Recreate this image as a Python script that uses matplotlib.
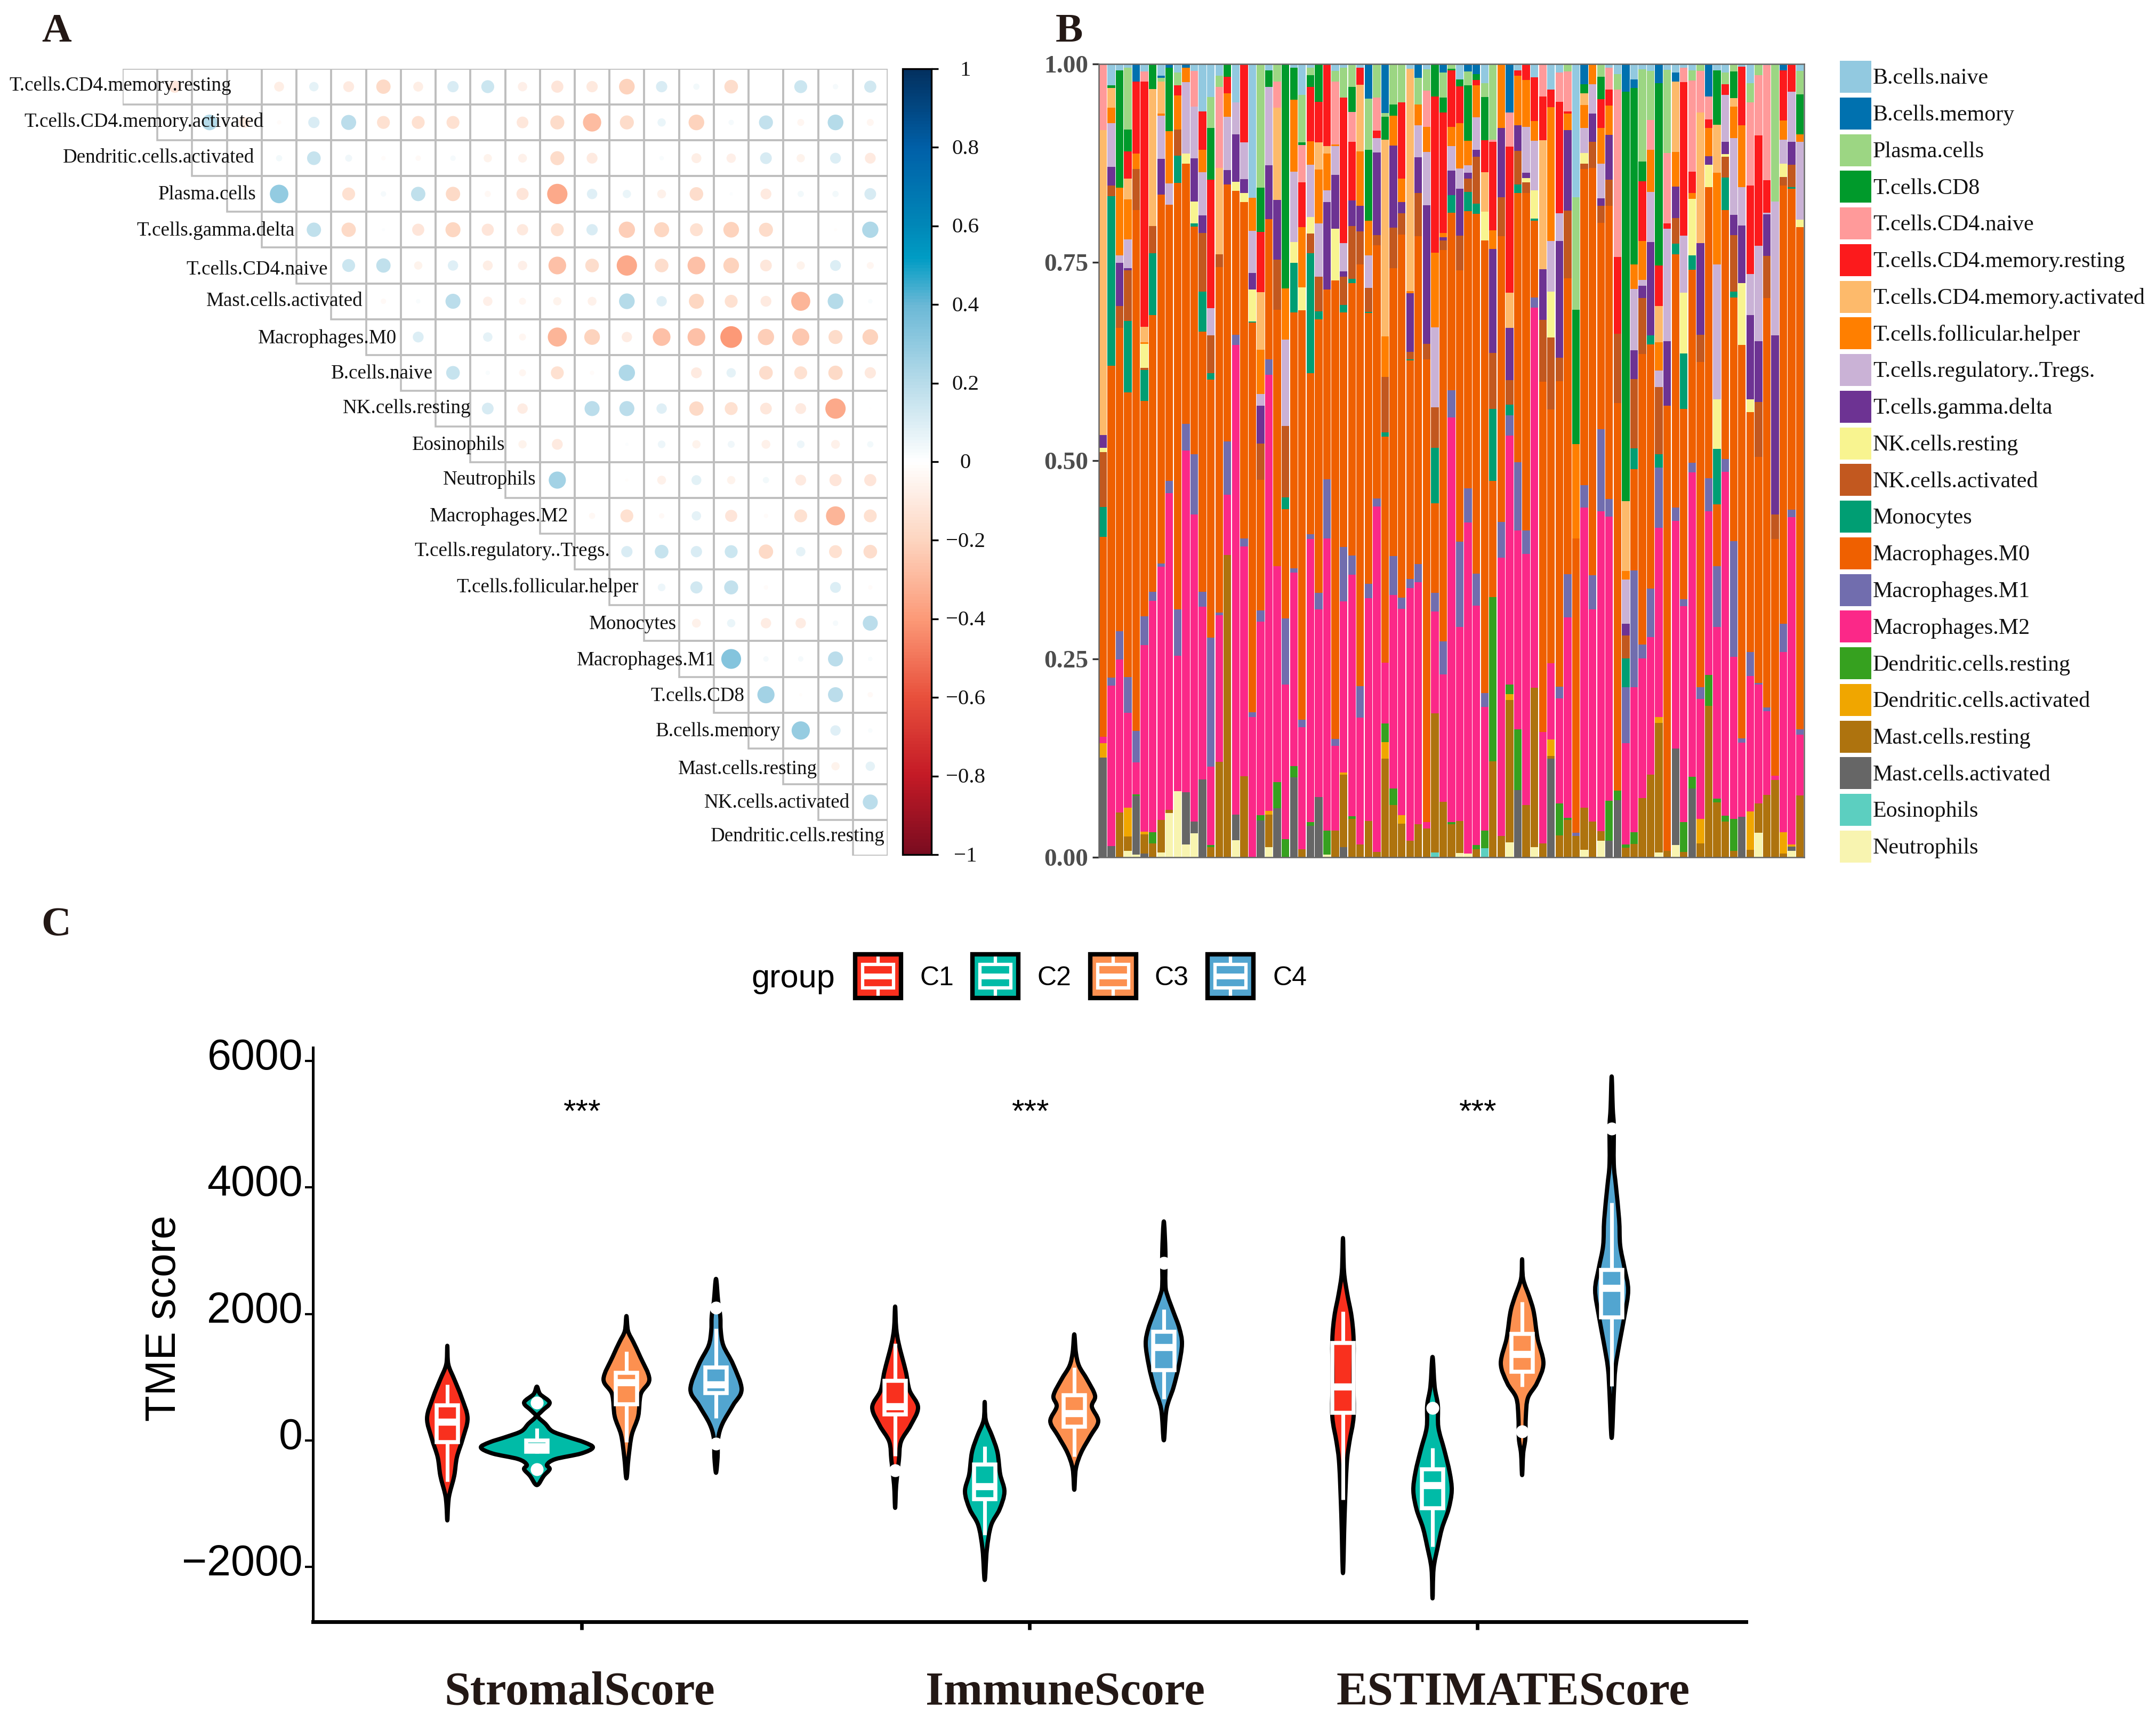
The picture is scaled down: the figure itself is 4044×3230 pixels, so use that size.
import numpy as np
import pandas as pd
import matplotlib
matplotlib.use("Agg")
import matplotlib.pyplot as plt
from matplotlib.colors import LinearSegmentedColormap, Normalize
from matplotlib.cm import ScalarMappable
from matplotlib.patches import Rectangle, PathPatch
from matplotlib.path import Path

W, H = 4044, 3230
SERIF = "Liberation Serif"
SANS = "Liberation Sans"
INK = "#231815"

# ---------- Panel A data ----------
corr_labels = ["T.cells.CD4.memory.resting", "T.cells.CD4.memory.activated", "Dendritic.cells.activated",
               "Plasma.cells", "T.cells.gamma.delta", "T.cells.CD4.naive", "Mast.cells.activated",
               "Macrophages.M0", "B.cells.naive", "NK.cells.resting", "Eosinophils", "Neutrophils",
               "Macrophages.M2", "T.cells.regulatory..Tregs.", "T.cells.follicular.helper", "Monocytes",
               "Macrophages.M1", "T.cells.CD8", "B.cells.memory", "Mast.cells.resting",
               "NK.cells.activated", "Dendritic.cells.resting"]
corr_rows = [
    [-.15, .03, 0, -.1, .09, -.12, -.21, -.1, .13, .17, -.09, -.15, -.13, -.25, .13, .04, -.19, 0, .17, .03, .15],
    [.25, -.12, -.02, .13, .23, -.17, -.17, -.17, 0, -.14, -.2, -.34, -.2, .07, -.25, .03, .2, -.05, .25, -.05],
    [0, .04, .19, .05, -.02, -.03, .03, -.07, -.08, -.2, -.12, 0, .02, -.1, -.09, .14, -.07, .12, -.12],
    [.35, 0, -.17, .03, .21, -.21, -.04, -.15, -.42, .11, .07, -.08, -.19, .01, -.12, .04, .04, .14],
    [.21, -.21, .01, -.15, -.23, -.15, -.13, -.17, .13, -.27, -.23, -.17, -.25, -.2, 0, -.01, .27],
    [.17, .21, -.07, .11, -.1, -.09, -.32, -.19, -.42, -.19, -.32, -.25, -.14, -.07, .12, -.05],
    [-.03, .02, .23, -.09, -.05, -.07, -.08, .25, .11, -.23, -.17, -.12, -.37, .25, .02],
    [.12, 0, .09, -.05, -.37, -.25, -.11, -.32, -.32, -.48, -.27, -.3, -.2, -.25],
    [.19, .02, -.05, -.17, -.02, .27, 0, -.12, .09, -.19, -.17, -.21, -.13],
    [.14, -.11, 0, .23, .23, .11, -.21, -.17, -.14, -.12, -.42, -.005],
    [-.07, -.12, 0, .01, .06, -.07, .05, -.08, .06, -.08, .04],
    [.3, 0, -.01, -.08, .1, -.07, .04, -.12, -.15, -.15],
    [-.04, -.17, -.03, .09, -.15, -.02, -.17, -.37, -.17],
    [.13, .19, .13, .17, -.21, .09, -.17, -.19],
    [.06, .15, .2, -.02, 0, .12, -.02],
    [-.08, .07, -.11, -.11, .03, .23],
    [.4, .03, .03, .23, .02],
    [.3, -.01, .23, -.03],
    [.34, .11, .02],
    [-.07, .09],
    [.23],
    [],
]
corr_ticks = [1, .8, .6, .4, .2, 0, -.2, -.4, -.6, -.8, -1]

# ---------- Panel B data ----------
cell_names = ["B.cells.naive", "B.cells.memory", "Plasma.cells", "T.cells.CD8", "T.cells.CD4.naive",
              "T.cells.CD4.memory.resting", "T.cells.CD4.memory.activated", "T.cells.follicular.helper",
              "T.cells.regulatory..Tregs.", "T.cells.gamma.delta", "NK.cells.resting", "NK.cells.activated",
              "Monocytes", "Macrophages.M0", "Macrophages.M1", "Macrophages.M2", "Dendritic.cells.resting",
              "Dendritic.cells.activated", "Mast.cells.resting", "Mast.cells.activated", "Eosinophils",
              "Neutrophils"]
cell_codes = list("abpcnrsftgykozvwdemxhu")
cell_colors = ["#92C9E0", "#0071AF", "#9CD683", "#009A2B", "#FF9A9A", "#FC1A1C", "#FDBA6B", "#FF7F00",
               "#CAB2D6", "#6D3393", "#F8F490", "#C2581F", "#009E73", "#EF6000", "#716DAE", "#FB2888",
               "#36A11F", "#F0A600", "#AE730E", "#666666", "#5CCFC0", "#F8F4B0"]
samples = [
    dict(n=129, s=593, g=25, y=8, k=107, o=58, z=389, w=13, e=28, x=194),
    dict(a=42, c=5, s=38, f=30, t=85, g=37, k=20, o=330, z=607, v=16, w=312, x=22),
    dict(a=12, c=229, f=132, t=14, g=84, k=43, z=590, v=55, w=298, m=87),
    dict(a=7, p=121, c=42, r=53, s=41, f=77, t=56, g=5, k=98, o=139, z=554, v=70, w=185, e=56, m=28, u=12),
    dict(b=34, r=140, f=30, k=80, z=1014, v=61, w=63, d=3, x=114, u=5),
    dict(a=15, n=19, r=478, s=30, f=3, y=46, k=5, o=60, z=419, v=56, w=363, e=5, m=38, x=7),
    dict(c=49, s=266, k=53, o=121, z=538, v=18, w=450, d=22, m=27),
    dict(a=23, b=4, p=7, s=63, f=4, t=84, g=69, z=718, v=7, w=492, m=64, u=9),
    dict(b=7, c=124, f=101, t=42, z=537, v=24, w=617, m=6, u=86),
    dict(a=17, p=25, r=19, f=67, k=50, o=53, z=831, v=90, w=263, u=129),
    dict(b=7, f=28, t=139, y=20, z=506, v=52, w=665, x=102, u=25),
    dict(a=13, n=70, t=101, g=84, y=42, o=6, z=444, v=117, w=597, x=23, u=47),
    dict(a=92, r=75, f=44, t=84, g=34, k=114, o=78, z=506, v=29, w=336, x=152),
    dict(a=64, p=60, c=101, r=250, t=53, k=74, o=12, z=502, v=252, w=152, d=4, m=20),
    dict(a=23, p=22, n=157, s=168, k=25, z=673, v=5, w=285, m=186),
    dict(c=25, r=32, f=46, t=104, g=27, z=501, v=103, w=118, m=588),
    dict(a=75, t=62, g=92, y=18, z=280, v=20, w=914, x=50, u=33),
    dict(r=153, t=71, g=27, y=18, z=654, v=16, w=447, m=158),
    dict(a=260, f=65, t=82, g=32, y=62, o=2, z=759, v=9, w=273),
    dict(p=241, c=86, r=117, s=112, f=86, t=23, g=74, k=70, z=255, v=21, w=377, d=10, x=72),
    dict(a=12, c=33, t=152, g=105, z=273, v=30, w=849, e=7, m=63, u=20),
    dict(p=34, n=51, s=180, g=116, k=97, z=499, w=421, d=51, x=95),
    dict(c=437, f=99, t=169, k=139, o=22, z=213, v=129, w=301, d=35),
    dict(a=7, c=63, f=140, t=137, y=40, o=97, z=498, v=8, w=377, d=21, x=156),
    dict(a=60, p=93, c=5, n=72, r=87, f=118, y=44, z=797, v=15, w=237, m=16),
    dict(a=7, p=15, c=23, r=105, f=46, t=102, y=32, k=38, o=234, z=313, v=10, w=550, d=8, x=61),
    dict(c=74, r=79, s=52, f=105, t=104, k=67, o=16, z=532, v=33, w=365, x=117),
    dict(r=160, s=14, f=72, t=23, g=170, z=369, v=115, w=569, d=47, u=5),
    dict(a=14, p=20, n=123, f=3, t=56, g=105, y=100, z=893, v=13, w=165, m=52),
    dict(a=7, p=58, r=284, t=55, g=10, k=55, o=15, z=456, v=106, w=333, e=4, m=141, x=20),
    dict(a=2, p=43, c=48, n=59, r=114, g=49, k=103, o=8, z=531, v=37, w=470, d=5, m=75),
    dict(a=7, r=33, s=130, f=106, g=50, k=64, z=821, v=61, w=247, m=25),
    dict(b=67, p=100, c=138, f=68, t=63, k=46, o=3, z=527, v=28, w=433, m=71),
    dict(p=65, n=65, r=14, t=28, g=161, k=20, z=493, v=15, w=673, m=10),
    dict(b=95, p=8, c=44, s=383, f=79, k=108, o=8, z=440, w=119, d=36, e=32, m=192),
    dict(p=79, c=22, f=58, g=160, k=78, z=561, v=76, w=376, d=32, m=102),
    dict(p=75, r=148, f=46, g=22, k=41, z=707, v=21, w=402, e=17, m=65),
    dict(a=9, s=433, f=4, g=114, k=15, o=2, z=425, v=18, w=492, m=32),
    dict(b=27, p=52, f=40, t=63, g=69, k=84, z=638, v=36, w=471, m=64),
    dict(a=10, p=42, n=70, f=49, t=104, g=270, k=30, z=901, w=12, m=56),
    dict(c=63, r=304, f=146, t=155, k=79, o=108, z=174, v=37, w=198, m=271, h=9),
    dict(b=17, p=48, c=29, r=235, f=8, g=6, k=19, z=762, v=64, w=248, m=108),
    dict(p=9, c=3, r=110, f=38, t=48, g=47, o=35, z=345, v=53, w=788, d=4, m=64),
    dict(a=30, c=14, r=71, f=88, t=40, g=91, k=68, z=528, v=166, w=377, m=63, u=8),
    dict(b=15, p=26, c=108, f=48, t=15, g=11, k=26, o=37, z=540, v=66, w=645, u=7),
    dict(b=20, c=11, r=11, f=62, t=63, g=14, k=91, o=20, z=700, v=62, w=466, d=8, m=16),
    dict(a=37, p=27, c=84, r=63, s=76, y=56, z=881, v=27, w=241, d=34, h=18),
    dict(p=147, n=5, r=172, f=36, g=202, k=109, o=140, z=227, d=319, m=187),
    dict(f=125, g=134, k=76, z=556, v=70, w=541, m=42),
    dict(b=94, n=67, r=284, s=69, g=101, k=48, o=21, v=39, w=485, d=19, e=11, m=277, u=29),
    dict(a=12, r=11, f=96, g=50, k=65, o=17, z=524, v=133, w=387, d=118, x=131),
    dict(r=31, f=91, t=90, g=10, y=8, k=21, z=657, v=46, w=488, m=102),
    dict(a=26, r=85, f=38, t=97, y=55, o=4, z=150, v=19, w=740, m=310, u=20),
    dict(n=63, r=85, s=252, g=98, k=120, z=682, w=217, m=27),
    dict(a=50, r=34, f=260, t=99, y=89, k=140, z=494, w=149, e=32, m=5, x=192),
    dict(a=17, n=57, r=217, t=53, g=228, k=45, z=595, v=23, w=204, d=62, m=43),
    dict(p=15, n=77, r=5, f=32, g=156, k=132, z=576, v=84, w=390, d=4, m=73),
    dict(a=259, p=219, c=262, f=183, z=573, v=6, m=42),
    dict(b=39, c=18, s=23, f=45, t=48, y=21, k=10, z=616, v=43, w=585, m=81, u=15),
    dict(f=39, t=58, g=54, k=51, z=793, v=67, w=412, m=70),
    dict(p=25, c=44, r=55, f=70, t=67, g=15, k=33, z=402, v=160, w=622, m=19, u=32),
    dict(a=7, n=43, r=31, f=57, g=87, k=51, z=571, v=34, w=553, d=78, x=32),
    dict(a=20, p=30, n=326, r=149, k=135, z=754, d=19, x=111),
    dict(b=54, c=797, s=136, f=16, t=86, g=23, k=45, o=56, v=109, w=197, d=6, m=19),
    dict(a=30, b=17, c=343, f=48, t=119, g=56, k=135, o=41, z=197, v=227, w=282, d=23, m=26),
    dict(a=10, p=180, c=38, r=116, f=76, t=12, g=24, k=108, z=566, v=27, w=272, m=115),
    dict(a=14, p=95, n=58, f=82, t=98, g=181, o=18, z=475, v=94, w=268, m=161),
    dict(b=37, c=355, r=79, s=71, f=55, t=32, k=131, o=25, v=118, w=368, e=12, m=252, u=9),
    dict(a=11, p=162, n=137, r=11, t=219, g=125, z=867, m=12),
    dict(a=17, b=17, s=137, f=68, g=61, k=50, o=20, z=493, v=26, w=443, x=188, u=24),
    dict(a=7, n=28, r=299, t=111, y=118, o=108, z=371, v=13, w=421, d=58, m=10),
    dict(a=12, p=20, n=178, r=41, f=12, y=109, o=29, z=375, v=19, w=592, d=23, x=134),
    dict(p=13, n=81, s=255, g=178, k=53, z=633, v=23, w=233, e=48, m=27),
    dict(b=63, n=45, r=16, f=56, g=16, y=44, z=566, v=65, w=318, d=60, m=295),
    dict(a=12, c=106, s=94, f=178, t=263, y=96, o=108, z=120, v=119, w=334, d=7, m=107),
    dict(a=17, p=22, r=21, t=91, g=24, y=6, k=40, o=63, z=485, v=25, w=669, d=11, m=70),
    dict(p=15, c=51, s=17, f=61, t=150, g=39, k=110, o=12, z=474, v=225, w=315, d=63, m=12),
    dict(a=5, r=114, f=121, t=74, g=112, y=121, z=766, v=8, w=144, x=79),
    dict(a=37, p=38, n=162, r=172, t=80, g=164, y=25, z=466, v=47, w=264, e=74, m=15),
    dict(p=22, n=117, r=215, t=186, g=118, k=107, z=440, v=3, w=231, m=57, u=48),
    dict(a=2, n=224, r=63, t=4, g=81, k=82, z=796, v=8, w=163, m=121),
    dict(p=268, t=260, g=348, k=48, z=460, w=9, m=150),
    dict(b=12, r=98, f=37, t=47, y=26, k=17, z=853, v=54, w=351, e=42, m=7),
    dict(r=54, t=98, g=44, k=44, o=3, z=624, v=15, w=637, e=4, x=9, u=12),
    dict(a=14, p=45, c=78, f=14, t=152, y=15, z=977, v=10, w=119, m=120),
]

# ---------- Panel C data: outline (score, half width) and box stats ----------
score_names = ["StromalScore", "ImmuneScore", "ESTIMATEScore"]
group_names = ["C1", "C2", "C3", "C4"]
group_colors = ["#F9301E", "#00BBA7", "#FC9050", "#52A5D0"]

stromal_c1 = ([1497, 1262, 1145, 969, 675, 353, 30, -264, -557, -851, -1027, -1262], [0, 1, 4, 13, 27, 38, 29, 18, 13, 4, 1.5, 0])
stromal_c2 = ([851, 734, 599, 470, 382, 264, 147, 59, -29, -111, -205, -293, -381, -452, -557, -704], [0, 6, 24, 10, 2, 16, 29, 57, 89, 105, 83, 35, 19, 24, 13, 0])
stromal_c3 = ([1967, 1732, 1556, 1321, 969, 734, 382, 89, -264, -598], [0, 3, 13, 26, 43, 27, 22, 10, 4, 0])
stromal_c4 = ([2554, 2202, 1967, 1732, 1497, 1204, 810, 558, 264, 30, -264, -510], [0, 4, 8, 9, 14, 32, 48, 32, 12, 4, 3, 0])
immune_c1 = ([2117, 1776, 1520, 1093, 794, 525, 239, -18, -316, -701, -1064], [0, 2, 7, 20, 27, 43, 29, 11, 7, 2, 0])
immune_c2 = ([610, 324, 68, -189, -530, -807, -1085, -1341, -1726, -2204], [0, 2, 14, 24, 29, 37, 28, 12, 4, 0])
immune_c3 = ([1678, 1391, 1178, 965, 708, 537, 303, 68, -189, -445, -778], [0, 3, 9, 24, 39, 33, 45, 30, 13, 3, 0])
immune_c4 = ([3462, 2971, 2459, 2288, 2032, 1776, 1528, 1178, 836, 495, 4], [0, 3, 3, 7, 18, 29, 34, 28, 18, 5, 0])
estimate_c1 = ([3199, 2671, 2319, 1967, 1585, 969, 382, -29, -381, -1203, -2095], [0, 2, 8, 16, 20, 19.5, 20, 12, 7, 3, 0])
estimate_c2 = ([1321, 851, 558, 206, -147, -499, -792, -1086, -1379, -1673, -2025, -2494], [0, 4, 10, 11, 22, 32, 36, 30, 18, 10, 2, 0])
estimate_c3 = ([2865, 2554, 2260, 2025, 1615, 1221, 910, 675, 382, 30, -205, -546], [0, 2, 14, 22, 29, 40, 28, 11, 7, 6, 2, 0])
estimate_c4 = ([5753, 5254, 4960, 4373, 4021, 3493, 3082, 2730, 2378, 1967, 1556, 1145, 734, 41], [0, 2, 4, 4, 8, 14, 16, 24, 31, 24, 15, 7, 4, 0])

# whisker low, q1, median, q3, whisker high
stromal_box = [(-645, -28, 294, 557, 881), (-205, -175, -90, -1, 194), (-29, 576, 922, 1068, 1409), (352, 746, 881, 1156, 1773)]
immune_box = [(-244, 414, 537, 943, 1532), (-1495, -927, -722, -381, -94), (-252, 217, 431, 713, 1157), (657, 1114, 1477, 1716, 2075)]
estimate_box = [(-939, 441, 851, 1543, 2037), (-1673, -1067, -704, -458, -117), (851, 1087, 1362, 1684, 2190), (863, 1950, 2407, 2700, 3757)]
stromal_out = [[], [599, -452], [], [2096, -47]]
immune_out = [[-474], [], [], [2809]]
estimate_out = [[], [511], [147], [4931]]
y_ticks_c = [6000, 4000, 2000, 0, -2000]

# ---------- helpers ----------
fig = plt.figure(figsize=(W / 300, H / 300), dpi=300, facecolor="white")


def axpx(l, t, r, b):
    return fig.add_axes([l / W, 1 - b / H, (r - l) / W, (b - t) / H])


def txt(x, y, s, **kw):
    kw.setdefault("family", SERIF)
    kw.setdefault("ha", "center")
    kw.setdefault("va", "center")
    kw.setdefault("color", INK)
    return fig.text(x / W, 1 - y / H, s, **kw)


px2pt = 72 / 300

txt(106, 60, "A", fontsize=18.5, fontweight="bold")
txt(2005, 60, "B", fontsize=18.5, fontweight="bold")
txt(105, 1735, "C", fontsize=18.5, fontweight="bold")

# ---------- Panel A ----------
cmap = LinearSegmentedColormap.from_list("corr", [
    (0, "#7A0C20"), (.1, "#C41A26"), (.2, "#E8503C"), (.3, "#FC9A78"), (.4, "#FDD5C0"), (.5, "#FFFFFF"),
    (.6, "#B8DCEA"), (.7, "#6AB8D6"), (.76, "#009CC4"), (.8, "#0088B8"), (.9, "#0060A8"), (1, "#03305F")])
norm = Normalize(-1, 1)
axA = axpx(230, 129, 1665, 1605)
axA.set_xlim(0, 22)
axA.set_ylim(22, 0)
axA.axis("off")
n = len(corr_labels)
cell_px = (1665 - 230) / 22
for i in range(n):
    for j in range(i, n):
        axA.add_patch(Rectangle((j, i), 1, 1, fc="none", ec="#BEBEBE", lw=0.85, zorder=1))
xs, ys, vals = [], [], []
for i, row in enumerate(corr_rows):
    for k, v in enumerate(row):
        xs.append(i + 1 + k + .5)
        ys.append(i + .5)
        vals.append(v)
vals = np.array(vals)
sizes = (0.9 * np.sqrt(np.abs(vals)) * cell_px * px2pt) ** 2
axA.scatter(xs, ys, s=sizes, c=vals, cmap=cmap, norm=Normalize(-1.2, 1.2), linewidths=0, zorder=2)

label_right = [434, 494, 477, 481, 553, 615, 681, 744, 812, 883, 947, 1006, 1066, 1144, 1198, 1269, 1342, 1396,
               1464, 1533, 1594, 1660]
label_y = [161, 228, 296, 365, 433, 506, 565, 635, 701, 766, 835, 900, 969, 1034, 1101, 1171, 1239, 1306, 1372,
           1443, 1506, 1568]
for s, xr, yc in zip(corr_labels, label_right, label_y):
    txt(xr, yc, s, fontsize=8.9, ha="right", color="#111111", zorder=5)

cax = axpx(1693, 129, 1747, 1603)
cb = fig.colorbar(ScalarMappable(norm=norm, cmap=cmap), cax=cax, ticks=corr_ticks)
cb.outline.set_linewidth(0.8)
cb.outline.set_edgecolor("black")
cax.tick_params(length=3, width=0.8, labelright=False)
for v in corr_ticks:
    lab = ("%g" % abs(v))
    lab = ("\u2212" + lab) if v < 0 else lab
    txt(1811, 866 - v * 737 + 3, lab, fontsize=9.8, color="#111111")

# ---------- Panel B ----------
axB = axpx(2061, 120, 3384, 1608)
df = pd.DataFrame(samples).reindex(columns=cell_codes).fillna(0.0)
frac = df.div(df.sum(axis=1), axis=0)
bottom = np.zeros(len(frac))
xpos = np.arange(len(frac))
for code, col in zip(reversed(cell_codes), reversed(cell_colors)):
    axB.bar(xpos, frac[code].values, bottom=bottom, width=0.92, color=col, linewidth=0)
    bottom += frac[code].values
axB.set_xlim(-.5, len(frac) - .5)
axB.set_ylim(0, 1)
axB.set_xticks([])
axB.set_yticks([0, .25, .5, .75, 1])
axB.set_yticklabels(["0.00", "0.25", "0.50", "0.75", "1.00"], family=SERIF, fontweight="bold", fontsize=11.4,
                    color="#4D4D4D")
axB.tick_params(axis="y", length=2.8, width=0.8, color="#333333", pad=2)
for sp in axB.spines.values():
    sp.set_linewidth(0.6)
    sp.set_color("#666666")

# overlay in pixel coordinates for the legends
ov = fig.add_axes([0, 0, 1, 1], facecolor="none")
ov.set_xlim(0, W)
ov.set_ylim(H, 0)
ov.axis("off")

for i, (name, col) in enumerate(zip(cell_names, cell_colors)):
    yc = 142 + i * 68.76
    ov.add_patch(Rectangle((3451, yc - 28), 59, 60, fc=col, ec="none"))
    txt(3513, yc + 5, name, fontsize=10.1, ha="left", color="#111111")

# ---------- Panel C ----------
axC = axpx(587, 1965, 3275, 3042)
axC.patch.set_alpha(0)
axC.set_xlim(-.6, 2.6)
axC.set_ylim(-2864, 6209)
unit = 840.0  # pixels per category


def violin_patch(cx, ys, ws, color):
    ys, ws = np.asarray(ys, float), np.asarray(ws, float) / unit
    pts = np.r_[np.c_[cx + ws, ys], np.c_[cx - ws[-2:0:-1], ys[-2:0:-1]]]
    m = len(pts)
    verts = [pts[0]]
    codes = [Path.MOVETO]
    for a in range(m):
        p0, p1, p2, p3 = pts[(a - 1) % m], pts[a], pts[(a + 1) % m], pts[(a + 2) % m]
        verts += [p1 + (p2 - p0) / 6, p2 - (p3 - p1) / 6, p2]
        codes += [Path.CURVE4] * 3
    verts.append(pts[0])
    codes.append(Path.CLOSEPOLY)
    return PathPatch(Path(np.array(verts), codes), fc=color, ec="black", lw=1.9, joinstyle="round", zorder=2)


outlines = [[stromal_c1, stromal_c2, stromal_c3, stromal_c4],
            [immune_c1, immune_c2, immune_c3, immune_c4],
            [estimate_c1, estimate_c2, estimate_c3, estimate_c4]]
boxes = [stromal_box, immune_box, estimate_box]
outs = [stromal_out, immune_out, estimate_out]
dodge = [-0.3, -0.1, 0.1, 0.3]
box_half = 20 / unit
for c in range(3):
    for g in range(4):
        cx = c + dodge[g]
        ys_, ws_ = outlines[c][g]
        axC.add_patch(violin_patch(cx, ys_, ws_, group_colors[g]))
        lo, q1, med, q3, hi = boxes[c][g]
        axC.add_patch(Rectangle((cx - box_half, q1), 2 * box_half, q3 - q1, fc="none", ec="white", lw=1.8, zorder=4))
        axC.plot([cx, cx], [q3, hi], color="white", lw=1.7, solid_capstyle="butt", zorder=3)
        axC.plot([cx, cx], [lo, q1], color="white", lw=1.7, solid_capstyle="butt", zorder=3)
        axC.plot([cx - box_half, cx + box_half], [med, med], color="white", lw=3.2, solid_capstyle="butt", zorder=4)
        if outs[c][g]:
            axC.plot([cx] * len(outs[c][g]), outs[c][g], "o", color="white", ms=5.8, mew=0, zorder=5)

axC.set_xticks([0, 1, 2])
axC.set_xticklabels([])
axC.set_yticks(y_ticks_c)
axC.set_yticklabels([])
axC.tick_params(axis="x", length=3.6, width=1.6, color="black")
axC.tick_params(axis="y", length=3.6, width=1.0, color="black")
for s in ("top", "right"):
    axC.spines[s].set_visible(False)
axC.spines["left"].set_linewidth(1.2)
axC.spines["bottom"].set_linewidth(1.7)

for v in y_ticks_c:
    lab = ("\u2212%d" % abs(v)) if v < 0 else str(v)
    txt(568, 2702 - v * 0.1187 - 5, lab, fontsize=19.4, family=SANS, ha="right", color="black")
txt(308, 2473, "TME score", fontsize=19.2, family=SANS, rotation=90, color="black")
for xc, s in zip([1087, 1998, 2838], score_names):
    txt(xc, 3175, s, fontsize=21, fontweight="bold")
for xc in [1091, 1932, 2771]:
    txt(xc, 2088, "***", fontsize=14.5, family=SANS, color="black")

# legend of panel C
txt(1488, 1836, "group", fontsize=14.7, family=SANS, color="black")
key_left = [1604, 1824, 2045, 2265]
lab_left = [1725, 1945, 2166, 2388]
for xk, xl, g, col in zip(key_left, lab_left, group_names, group_colors):
    ov.add_patch(Rectangle((xk, 1790), 86, 82, fc=col, ec="none", zorder=2))
    xm = xk + 43
    ov.plot([xm, xm], [1790, 1872], color="white", lw=1.5, solid_capstyle="butt", zorder=3)
    ov.add_patch(Rectangle((xk + 14, 1809), 58, 44, fc=col, ec="white", lw=1.5, zorder=4))
    ov.plot([xk + 14, xk + 72], [1831, 1831], color="white", lw=2.6, solid_capstyle="butt", zorder=5)
    ov.add_patch(Rectangle((xk, 1790), 86, 82, fc="none", ec="black", lw=2.0, zorder=6))
    txt(xl, 1835, g, fontsize=12, family=SANS, ha="left", color="black")

fig.savefig("out.png", dpi=300, facecolor="white")
